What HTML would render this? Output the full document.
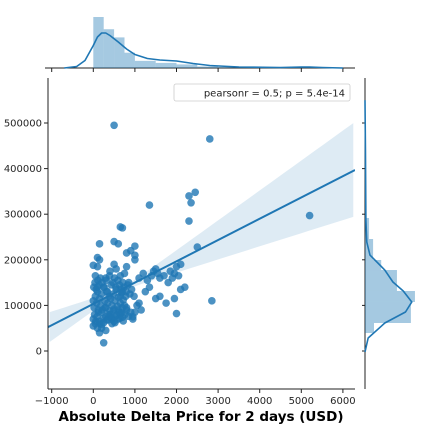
<!DOCTYPE html>
<html><head><meta charset="utf-8"><style>
html,body{margin:0;padding:0;background:#fff}
svg{display:block;font-family:"DejaVu Sans","Liberation Sans",sans-serif}
</style></head><body>
<svg id="chart" width="432" height="432" viewBox="0 0 432 432"></svg>
<script>
// data
const xTicks=[-1000,0,1000,2000,3000,4000,5000,6000];
const yTicks=[0,100000,200000,300000,400000,500000];
const yTickLabels=["0","100000","200000","300000","400000","500000"];
const ptsX=[500,2800,2300,2450,2350,2300,1350,5200,2850,2000,2500,700,650,1000,150,500,600,800,900,1000,1000,100,100,150,0,250,150,
0,20,50,80,100,120,150,180,200,220,250,280,300,320,350,380,400,420,450,480,500,520,550,580,600,620,650,680,700,720,750,780,800,
0,30,60,90,120,160,200,240,280,320,360,400,440,480,520,560,600,640,680,720,760,800,850,900,950,
10,40,70,110,140,170,210,260,310,340,390,430,470,510,540,590,630,670,710,740,790,830,880,920,980,
0,50,100,150,200,250,300,350,400,450,500,550,600,650,700,
1100,1200,1300,1400,1450,1500,1550,1600,1700,1800,1850,1900,1950,2000,2050,2100,2200,1250,1350,1600,1750,1950,2100,1500,1150,1000,950,1050,1100,
300,400,500,550,650,750,800,850,300,200,100,50,650,700,450];
const ptsY=[495000,465000,340000,348000,325000,285000,320000,297000,110000,82000,228000,270000,272000,230000,235000,240000,235000,215000,220000,210000,200000,185000,205000,200000,188000,18000,40000,
110000,95000,120000,105000,130000,85000,115000,100000,125000,90000,140000,110000,95000,130000,105000,120000,88000,115000,100000,125000,92000,110000,135000,98000,118000,85000,105000,128000,95000,112000,100000,120000,90000,
70000,80000,65000,75000,90000,60000,85000,72000,95000,68000,80000,75000,70000,88000,62000,78000,90000,72000,84000,66000,80000,95000,76000,85000,70000,
140000,150000,135000,155000,145000,160000,150000,140000,155000,130000,165000,145000,150000,160000,140000,155000,145000,135000,150000,140000,130000,145000,125000,135000,120000,
55000,60000,50000,65000,58000,62000,75000,68000,80000,72000,65000,78000,70000,82000,74000,
160000,170000,155000,165000,175000,180000,170000,160000,165000,150000,175000,160000,170000,185000,165000,190000,140000,130000,140000,120000,105000,115000,135000,115000,90000,85000,75000,100000,105000,
160000,175000,190000,180000,165000,170000,185000,150000,45000,50000,140000,165000,120000,130000,60000];
const topHistEdges=[0,250,500,750,1000,1500,2000,2500,3000,3500,4000,4500,5000,5500];
const topHistVals=[1.0,0.76,0.6,0.3,0.14,0.1,0.07,0.03,0.02,0.01,0.01,0.01,0.01];
const topKdeX=[-700,-400,-200,0,100,200,300,400,600,800,1000,1300,1600,2000,2400,2800,3500,4500,5000,5200,5500,6000];
const topKdeY=[0,0.03,0.15,0.45,0.62,0.7,0.7,0.65,0.52,0.38,0.27,0.19,0.16,0.14,0.09,0.05,0.02,0.01,0.02,0.02,0.01,0];
const rightHistEdges=[39500,61400,107500,131600,177600,199600,245600,291700];
const rightHistVals=[0.2,1.02,1.11,0.71,0.36,0.18,0.09];
const rightKdeY=[-2000,28500,61400,85500,107500,131600,151300,177600,210500,239000,287000,440000,550000];
const rightKdeV=[0,0.07,0.44,0.9,1.04,0.85,0.62,0.44,0.11,0.04,0.02,0.01,0];
const regSlope=47.2, regIntercept=102000, xMean=700;

const NS="http://www.w3.org/2000/svg";
const svg=document.getElementById('chart');
function el(t,a,p){const e=document.createElementNS(NS,t);for(const k in a)e.setAttribute(k,a[k]);(p||svg).appendChild(e);return e;}
const sx=v=>93.3+v*0.0416;
const sy=v=>351-v*0.000456;
const X0=48,X1=355,Y0=78,Y1=389;
const blue="#1f77b4";

const defs=el('defs',{});const cp=el('clipPath',{id:'clipMain'},defs);el('rect',{x:X0,y:Y0,width:X1-X0,height:Y1-Y0},cp);
// confidence band
let up=[],dn=[];
for(let i=0;i<=40;i++){const x=-1050+i*(7300/40);const yh=regIntercept+regSlope*x;const hw=Math.sqrt(5000*5000+18.5*18.5*(x-xMean)*(x-xMean));up.push(sx(x)+","+sy(yh+hw));dn.unshift(sx(x)+","+sy(yh-hw));}
const band=el('polygon',{points:up.concat(dn).join(' '),fill:blue,'fill-opacity':0.15,'clip-path':'url(#clipMain)'});



// points
const g=el('g',{});


for(let i=0;i<ptsX.length;i++){const c=el('circle',{cx:sx(ptsX[i]),cy:sy(ptsY[i]),r:3.8,fill:blue,'fill-opacity':0.8},g);

}

// regression line
const rl=el('line',{x1:X0,y1:sy(regIntercept+regSlope*-1050),x2:X1,y2:sy(regIntercept+regSlope*6250),stroke:blue,'stroke-width':2,'clip-path':'url(#clipMain)'});



// main axes
el('line',{x1:X0,y1:Y0,x2:X0,y2:Y1,stroke:'#222','stroke-width':1});
el('line',{x1:X0,y1:Y1,x2:X1,y2:Y1,stroke:'#222','stroke-width':1});
xTicks.forEach(t=>{const x=sx(t);el('line',{x1:x,y1:Y1,x2:x,y2:Y1+4,stroke:'#222'});
const tx=el('text',{x:x,y:Y1+15,'font-size':10,'text-anchor':'middle',fill:'#262626'});tx.textContent=(t<0?'\u2212'+(-t):t);


el('line',{x1:x,y1:68,x2:x,y2:72,stroke:'#222'});});
yTicks.forEach((t,i)=>{const y=sy(t);el('line',{x1:X0-4,y1:y,x2:X0,y2:y,stroke:'#222'});
const tx=el('text',{x:X0-6,y:y+3.5,'font-size':10,'text-anchor':'end',fill:'#262626'});tx.textContent=yTickLabels[i];


el('line',{x1:365,y1:y,x2:362,y2:y,stroke:'#222'});});
const xl=el('text',{x:201,y:421,'font-size':13.5,'font-weight':'bold','text-anchor':'middle',fill:'#000'});xl.textContent='Absolute Delta Price for 2 days (USD)';



// legend
const lg=el('g',{});


el('rect',{x:174,y:84,width:176,height:17,rx:2,fill:'#fff',stroke:'#ccc','stroke-width':0.8},lg);
const lt=el('text',{x:345,y:96.5,'font-size':10,'text-anchor':'end',fill:'#222'},lg);lt.textContent='pearsonr = 0.5; p = 5.4e-14';

// top marginal
el('line',{x1:X0-3,y1:68,x2:X1,y2:68,stroke:'#222'});
const tg=el('g',{});


for(let i=0;i<topHistVals.length;i++){const h=topHistVals[i]*51;el('rect',{x:sx(topHistEdges[i]),y:68-h,width:sx(topHistEdges[i+1])-sx(topHistEdges[i]),height:h,fill:blue,'fill-opacity':0.4},tg);}
const tk=el('polyline',{points:topKdeX.map((x,i)=>sx(x)+','+(68-topKdeY[i]*50)).join(' '),fill:'none',stroke:blue,'stroke-width':1.6,'stroke-linejoin':'round'});



// right marginal
el('line',{x1:365,y1:Y0,x2:365,y2:Y1,stroke:'#222'});
const rg=el('g',{});


for(let i=0;i<rightHistVals.length;i++){const w=rightHistVals[i]*45;const ya=sy(rightHistEdges[i+1]),yb=sy(rightHistEdges[i]);el('rect',{x:365,y:ya,width:w,height:yb-ya,fill:blue,'fill-opacity':0.4},rg);}
const rk=el('polyline',{points:rightKdeY.map((y,i)=>(365+rightKdeV[i]*45)+','+sy(y)).join(' '),fill:'none',stroke:blue,'stroke-width':1.6,'stroke-linejoin':'round'});


</script>
</body></html>
